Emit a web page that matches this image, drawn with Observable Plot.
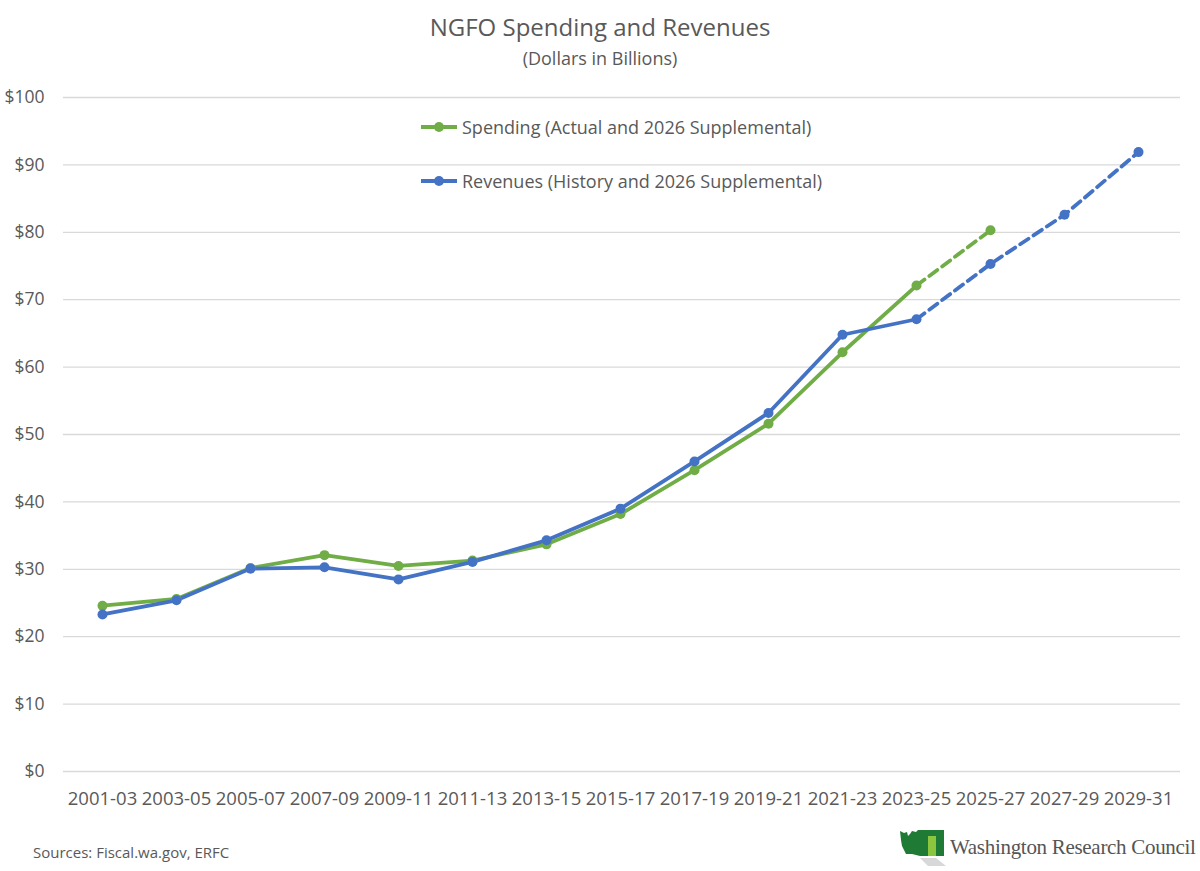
<!DOCTYPE html>
<html>
<head>
<meta charset="utf-8">
<script src="https://cdn.jsdelivr.net/npm/d3@7"></script>
<script src="https://cdn.jsdelivr.net/npm/@observablehq/plot@0.6"></script>
<style>
  html, body { margin: 0; padding: 0; background: #fff; }
  body { width: 1200px; height: 871px; overflow: hidden; font-family: "Open Sans", "Noto Sans", sans-serif; color: #595959; }
  #header { position: relative; height: 80px; }
  #title { position: absolute; left: 0; right: 0; top: 11px; text-align: center; font-size: 24px; line-height: 32px; color: #595959; }
  #subtitle { position: absolute; left: 0; right: 0; top: 45px; text-align: center; font-size: 18px; line-height: 26px; color: #595959; }
  #chart { position: relative; height: 740px; }
  #chart svg { display: block; }
  .legend { position: absolute; left: 420px; display: flex; align-items: center; font-size: 18px; color: #595959; height: 26px; }
  .legend svg { margin-right: 4px; }
  #footer { position: relative; height: 51px; }
  #source { position: absolute; left: 33px; top: 22px; font-size: 15px; color: #595959; }
  #logo { position: absolute; left: 898px; top: 8px; display: flex; align-items: center; }
  #logo span { font-family: "Liberation Serif", "DejaVu Serif", serif; font-size: 21px; color: #555; margin-left: 4px; letter-spacing: -0.3px; }
</style>
</head>
<body>
<div id="header">
  <div id="title">NGFO Spending and Revenues</div>
  <div id="subtitle">(Dollars in Billions)</div>
</div>
<div id="chart"></div>
<div id="footer">
  <div id="source">Sources: Fiscal.wa.gov, ERFC</div>
  <div id="logo">
    <svg width="48" height="38" viewBox="0 0 48 38">
      <polygon points="22,30 38,30 48,38 30,38" fill="#d8d8d8"/>
      <path d="M2,3 L6,5 L9,4 L10,8 L12,6 L14,3 L18,4 L20,2 L46,2 L46,28 L38,28 L38,8 L30,8 L30,28 L22,28 L18,27 L14,26 L8,26 L6,22 L4,18 L3,12 Z" fill="#1f7a36"/>
      <rect x="30" y="8" width="8" height="20" fill="#8cc63e"/>
    </svg>
    <span>Washington Research Council</span>
  </div>
</div>
<script>
const periods = ["2001-03","2003-05","2005-07","2007-09","2009-11","2011-13","2013-15","2015-17","2017-19","2019-21","2021-23","2023-25","2025-27","2027-29","2029-31"];
const spending = [24.6, 25.6, 30.2, 32.1, 30.5, 31.3, 33.7, 38.2, 44.7, 51.6, 62.2, 72.1, 80.3, null, null];
const revenues = [23.3, 25.4, 30.1, 30.3, 28.5, 31.1, 34.3, 39.0, 46.0, 53.2, 64.8, 67.1, 75.3, 82.6, 91.9];
const lastActual = "2023-25";
const yTicks = [0, 10, 20, 30, 40, 50, 60, 70, 80, 90, 100];
const seriesNames = ["Spending (Actual and 2026 Supplemental)", "Revenues (History and 2026 Supplemental)"];
const green = "#70ad47";
const blue = "#4472c4";

const splitAt = periods.indexOf(lastActual);
function toRows(vals) {
  return periods.map((p, i) => ({period: p, value: vals[i], i})).filter(d => d.value != null);
}
const spendRows = toRows(spending);
const revRows = toRows(revenues);
const solid = rows => rows.filter(d => d.i <= splitAt);
const dashed = rows => rows.filter(d => d.i >= splitAt);

const chart = Plot.plot({
  width: 1200,
  height: 740,
  marginTop: 17,
  marginBottom: 49,
  marginLeft: 63,
  marginRight: 20,
  style: {fontFamily: '"Open Sans", "Noto Sans", sans-serif', color: "#595959", background: "transparent"},
  x: {type: "point", domain: periods, padding: 0.5, insetLeft: -4, axis: null},
  y: {domain: [0, 100], axis: null},
  marks: [
    Plot.ruleY(yTicks, {stroke: "#d9d9d9", strokeWidth: 1.3}),
    Plot.axisY({ticks: yTicks, tickFormat: d => "$" + d, tickSize: 0, tickPadding: 19, fontSize: 17.5, fill: "#595959", label: null}),
    Plot.axisX({tickSize: 0, tickPadding: 20, fontSize: 18.5, fill: "#595959", label: null}),
    Plot.line(solid(spendRows), {x: "period", y: "value", stroke: green, strokeWidth: 3.8}),
    Plot.line(dashed(spendRows), {x: "period", y: "value", stroke: green, strokeWidth: 3.8, strokeDasharray: "10,6"}),
    Plot.line(solid(revRows), {x: "period", y: "value", stroke: blue, strokeWidth: 3.8}),
    Plot.line(dashed(revRows), {x: "period", y: "value", stroke: blue, strokeWidth: 3.8, strokeDasharray: "10,6"}),
    Plot.dot(spendRows, {x: "period", y: "value", fill: green, r: 5}),
    Plot.dot(revRows, {x: "period", y: "value", fill: blue, r: 5})
  ]
});
const container = document.getElementById("chart");
container.appendChild(chart);

[[seriesNames[0], green, 34], [seriesNames[1], blue, 88]].forEach(([name, color, top]) => {
  const div = document.createElement("div");
  div.className = "legend";
  div.style.top = top + "px";
  div.innerHTML = `<svg width="38" height="12"><line x1="1" x2="37" y1="6" y2="6" stroke="${color}" stroke-width="3.8"/><circle cx="19" cy="6" r="5" fill="${color}"/></svg><span>${name}</span>`;
  container.appendChild(div);
});
</script>
</body>
</html>
